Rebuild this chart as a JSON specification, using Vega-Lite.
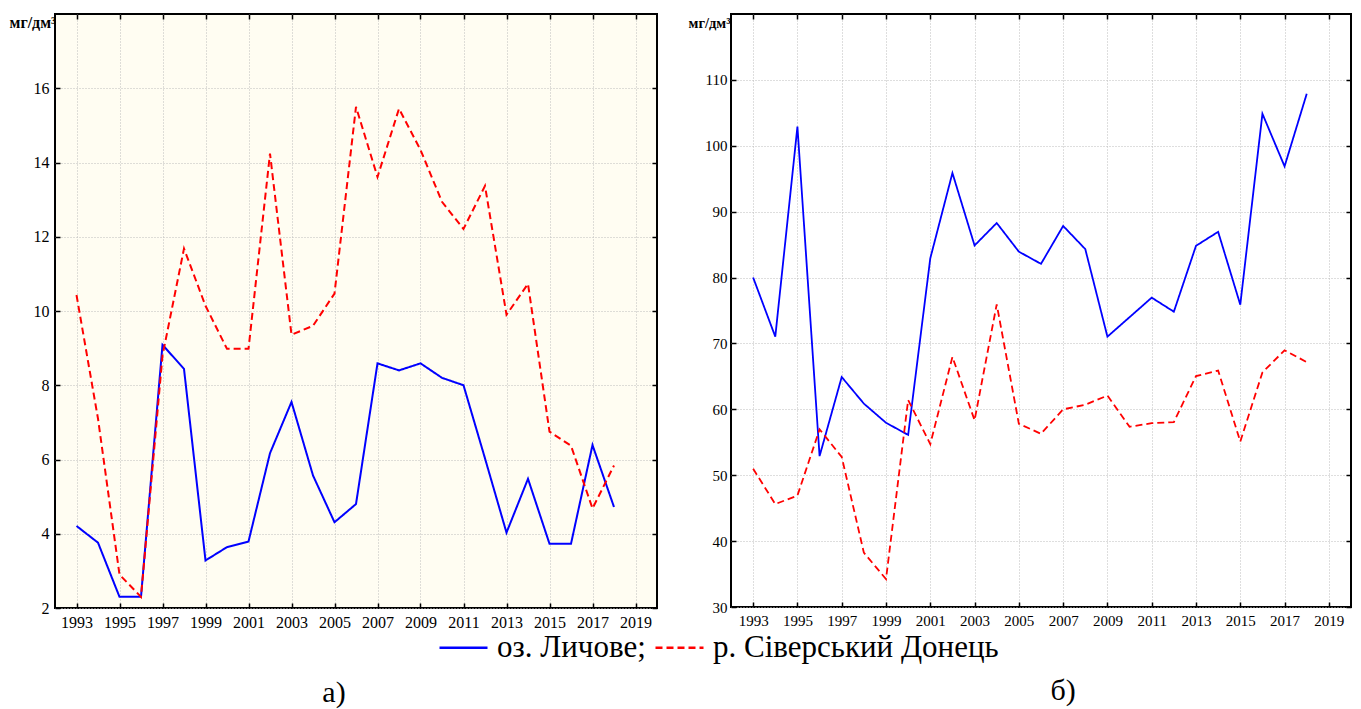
{
  "$schema": "https://vega.github.io/schema/vega-lite/v6.json",
  "background": "#ffffff",
  "padding": {"left": 8, "top": 12, "right": 0, "bottom": 0},
  "spacing": 74,
  "bounds": "flush",
  "config": {
    "font": "Liberation Serif",
    "view": {"stroke": "#000000", "strokeWidth": 2},
    "axis": {"labelFont": "Liberation Serif", "labelColor": "#000000", "titleFont": "Liberation Serif", "titleColor": "#000000", "gridColor": "#bdbdbd", "gridDash": [1, 2], "gridWidth": 1, "domain": false, "tickColor": "#000000", "tickWidth": 1.5, "tickSize": -5, "labelFlush": false, "labelOverlap": false},
    "legend": {"labelFont": "Liberation Serif", "labelFontSize": 31, "labelColor": "#000000"}
  },
  "datasets": {
    "a": [
      {"year": 1993, "series": "оз. Личове;", "value": 4.21},
      {"year": 1994, "series": "оз. Личове;", "value": 3.76},
      {"year": 1995, "series": "оз. Личове;", "value": 2.3},
      {"year": 1996, "series": "оз. Личове;", "value": 2.3},
      {"year": 1997, "series": "оз. Личове;", "value": 9.09},
      {"year": 1998, "series": "оз. Личове;", "value": 8.44},
      {"year": 1999, "series": "оз. Личове;", "value": 3.28},
      {"year": 2000, "series": "оз. Личове;", "value": 3.64},
      {"year": 2001, "series": "оз. Личове;", "value": 3.79},
      {"year": 2002, "series": "оз. Личове;", "value": 6.17},
      {"year": 2003, "series": "оз. Личове;", "value": 7.55},
      {"year": 2004, "series": "оз. Личове;", "value": 5.57},
      {"year": 2005, "series": "оз. Личове;", "value": 4.31},
      {"year": 2006, "series": "оз. Личове;", "value": 4.8},
      {"year": 2007, "series": "оз. Личове;", "value": 8.59},
      {"year": 2008, "series": "оз. Личове;", "value": 8.4},
      {"year": 2009, "series": "оз. Личове;", "value": 8.59},
      {"year": 2010, "series": "оз. Личове;", "value": 8.2},
      {"year": 2011, "series": "оз. Личове;", "value": 8.0},
      {"year": 2012, "series": "оз. Личове;", "value": 6.03},
      {"year": 2013, "series": "оз. Личове;", "value": 4.03},
      {"year": 2014, "series": "оз. Личове;", "value": 5.48},
      {"year": 2015, "series": "оз. Личове;", "value": 3.73},
      {"year": 2016, "series": "оз. Личове;", "value": 3.73},
      {"year": 2017, "series": "оз. Личове;", "value": 6.39},
      {"year": 2018, "series": "оз. Личове;", "value": 4.72},
      {"year": 1993, "series": "р. Сіверський Донець", "value": 10.43},
      {"year": 1994, "series": "р. Сіверський Донець", "value": 7.1},
      {"year": 1995, "series": "р. Сіверський Донець", "value": 2.9},
      {"year": 1996, "series": "р. Сіверський Донець", "value": 2.3},
      {"year": 1997, "series": "р. Сіверський Донець", "value": 8.8},
      {"year": 1998, "series": "р. Сіверський Донець", "value": 11.68},
      {"year": 1999, "series": "р. Сіверський Донець", "value": 10.14},
      {"year": 2000, "series": "р. Сіверський Донець", "value": 8.98},
      {"year": 2001, "series": "р. Сіверський Донець", "value": 8.98},
      {"year": 2002, "series": "р. Сіверський Донець", "value": 14.24},
      {"year": 2003, "series": "р. Сіверський Донець", "value": 9.36},
      {"year": 2004, "series": "р. Сіверський Донець", "value": 9.6},
      {"year": 2005, "series": "р. Сіверський Донець", "value": 10.47},
      {"year": 2006, "series": "р. Сіверський Донець", "value": 15.5},
      {"year": 2007, "series": "р. Сіверський Донець", "value": 13.61},
      {"year": 2008, "series": "р. Сіверський Донець", "value": 15.45},
      {"year": 2009, "series": "р. Сіверський Донець", "value": 14.34},
      {"year": 2010, "series": "р. Сіверський Донець", "value": 12.94},
      {"year": 2011, "series": "р. Сіверський Донець", "value": 12.21},
      {"year": 2012, "series": "р. Сіверський Донець", "value": 13.37},
      {"year": 2013, "series": "р. Сіверський Донець", "value": 9.9},
      {"year": 2014, "series": "р. Сіверський Донець", "value": 10.73},
      {"year": 2015, "series": "р. Сіверський Донець", "value": 6.75},
      {"year": 2016, "series": "р. Сіверський Донець", "value": 6.37},
      {"year": 2017, "series": "р. Сіверський Донець", "value": 4.68},
      {"year": 2018, "series": "р. Сіверський Донець", "value": 5.84}
    ],
    "b": [
      {"year": 1993, "series": "оз. Личове;", "value": 80},
      {"year": 1994, "series": "оз. Личове;", "value": 71.03},
      {"year": 1995, "series": "оз. Личове;", "value": 102.9},
      {"year": 1996, "series": "оз. Личове;", "value": 52.9},
      {"year": 1997, "series": "оз. Личове;", "value": 64.9},
      {"year": 1998, "series": "оз. Личове;", "value": 60.87},
      {"year": 1999, "series": "оз. Личове;", "value": 57.96},
      {"year": 2000, "series": "оз. Личове;", "value": 56.12},
      {"year": 2001, "series": "оз. Личове;", "value": 82.92},
      {"year": 2002, "series": "оз. Личове;", "value": 95.87},
      {"year": 2003, "series": "оз. Личове;", "value": 84.87},
      {"year": 2004, "series": "оз. Личове;", "value": 88.28},
      {"year": 2005, "series": "оз. Личове;", "value": 83.93},
      {"year": 2006, "series": "оз. Личове;", "value": 82.08},
      {"year": 2007, "series": "оз. Личове;", "value": 87.83},
      {"year": 2008, "series": "оз. Личове;", "value": 84.32},
      {"year": 2009, "series": "оз. Личове;", "value": 71.03},
      {"year": 2010, "series": "оз. Личове;", "value": 73.99},
      {"year": 2011, "series": "оз. Личове;", "value": 76.95},
      {"year": 2012, "series": "оз. Личове;", "value": 74.82},
      {"year": 2013, "series": "оз. Личове;", "value": 84.82},
      {"year": 2014, "series": "оз. Личове;", "value": 86.94},
      {"year": 2015, "series": "оз. Личове;", "value": 75.88},
      {"year": 2016, "series": "оз. Личове;", "value": 104.86},
      {"year": 2017, "series": "оз. Личове;", "value": 96.88},
      {"year": 2018, "series": "оз. Личове;", "value": 107.88},
      {"year": 1993, "series": "р. Сіверський Донець", "value": 50.98},
      {"year": 1994, "series": "р. Сіверський Донець", "value": 45.62},
      {"year": 1995, "series": "р. Сіверський Донець", "value": 46.91},
      {"year": 1996, "series": "р. Сіверський Донець", "value": 56.96},
      {"year": 1997, "series": "р. Сіверський Донець", "value": 52.77},
      {"year": 1998, "series": "р. Сіверський Донець", "value": 38.25},
      {"year": 1999, "series": "р. Сіверський Донець", "value": 34.23},
      {"year": 2000, "series": "р. Сіверський Донець", "value": 61.42},
      {"year": 2001, "series": "р. Сіверський Донець", "value": 54.72},
      {"year": 2002, "series": "р. Сіверський Донець", "value": 67.96},
      {"year": 2003, "series": "р. Сіверський Донець", "value": 58.35},
      {"year": 2004, "series": "р. Сіверський Донець", "value": 75.94},
      {"year": 2005, "series": "р. Сіверський Донець", "value": 57.8},
      {"year": 2006, "series": "р. Сіверський Донець", "value": 56.29},
      {"year": 2007, "series": "р. Сіверський Донець", "value": 60},
      {"year": 2008, "series": "р. Сіверський Донець", "value": 60.7},
      {"year": 2009, "series": "р. Сіверський Донець", "value": 62.09},
      {"year": 2010, "series": "р. Сіверський Донець", "value": 57.35},
      {"year": 2011, "series": "р. Сіверський Донець", "value": 57.9},
      {"year": 2012, "series": "р. Сіверський Донець", "value": 58.07},
      {"year": 2013, "series": "р. Сіверський Донець", "value": 65.05},
      {"year": 2014, "series": "р. Сіверський Донець", "value": 65.89},
      {"year": 2015, "series": "р. Сіверський Донець", "value": 55.11},
      {"year": 2016, "series": "р. Сіверський Донець", "value": 65.6},
      {"year": 2017, "series": "р. Сіверський Донець", "value": 68.96},
      {"year": 2018, "series": "р. Сіверський Донець", "value": 67.17}
    ]
  },
  "resolve": {"scale": {"color": "shared", "strokeDash": "shared"}},
  "hconcat": [
    {
      "width": 602,
      "height": 594,
      "data": {"name": "a"},
      "view": {"fill": "#fffdf2", "stroke": "#000000", "strokeWidth": 2},
      "title": {"text": "а)", "orient": "bottom", "anchor": "middle", "dx": -22, "offset": 48, "font": "Liberation Serif", "fontSize": 30, "fontWeight": "normal", "color": "#000000"},
      "resolve": {"axis": {"x": "independent", "y": "independent"}},
      "layer": [
        {
          "mark": {"type": "line", "strokeWidth": 2},
          "encoding": {
            "x": {"field": "year", "type": "quantitative", "scale": {"domain": [1992, 2020], "nice": false, "zero": false},
              "axis": {"values": [1993, 1995, 1997, 1999, 2001, 2003, 2005, 2007, 2009, 2011, 2013, 2015, 2017, 2019], "format": "d", "title": null, "labelFont": "Liberation Serif", "labelFontSize": 16, "labelPadding": 11, "grid": true}},
            "y": {"field": "value", "type": "quantitative", "scale": {"domain": [2, 18], "nice": false, "zero": false},
              "axis": {"values": [2, 4, 6, 8, 10, 12, 14, 16], "title": "мг/дм³", "titleAngle": 0, "titleAlign": "left", "titleBaseline": "alphabetic", "titleX": -46, "titleY": 13, "titleFontSize": 16, "titleFontWeight": "bold", "labelFont": "Liberation Serif", "labelFontSize": 16, "labelPadding": 11, "grid": true}},
            "color": {"field": "series", "type": "nominal", "scale": {"domain": ["оз. Личове;", "р. Сіверський Донець"], "range": ["#0000ff", "#ff0000"]},
              "legend": {"orient": "none", "legendX": 383, "legendY": 608, "direction": "horizontal", "title": null, "symbolType": "stroke", "symbolSize": 2304, "symbolStrokeWidth": 2.5, "labelFont": "Liberation Serif", "labelFontSize": 31, "labelColor": "#000000", "labelLimit": 0, "columnPadding": 4, "labelOffset": 8, "padding": 0}},
            "strokeDash": {"field": "series", "type": "nominal", "scale": {"domain": ["оз. Личове;", "р. Сіверський Донець"], "range": [[1, 0], [7, 4]]},
              "legend": {"orient": "none", "legendX": 383, "legendY": 608, "direction": "horizontal", "title": null, "symbolType": "stroke", "symbolSize": 2304, "symbolStrokeWidth": 2.5, "labelFont": "Liberation Serif", "labelFontSize": 31, "labelColor": "#000000", "labelLimit": 0, "columnPadding": 4, "labelOffset": 8, "padding": 0}}
          }
        },
        {
          "mark": {"type": "line", "opacity": 0},
          "encoding": {
            "x": {"field": "year", "type": "quantitative", "axis": {"orient": "top", "values": [1993, 1995, 1997, 1999, 2001, 2003, 2005, 2007, 2009, 2011, 2013, 2015, 2017, 2019], "labels": false, "title": null, "grid": false}},
            "y": {"field": "value", "type": "quantitative", "axis": {"orient": "right", "values": [2, 4, 6, 8, 10, 12, 14, 16], "labels": false, "title": null, "grid": false}},
            "detail": {"field": "series"}
          }
        }
      ]
    },
    {
      "width": 620,
      "height": 593,
      "data": {"name": "b"},
      "view": {"fill": "#ffffff", "stroke": "#000000", "strokeWidth": 2},
      "title": {"text": "б)", "orient": "bottom", "anchor": "middle", "dx": 22, "offset": 48, "font": "Liberation Serif", "fontSize": 30, "fontWeight": "normal", "color": "#000000"},
      "resolve": {"axis": {"x": "independent", "y": "independent"}},
      "layer": [
        {
          "mark": {"type": "line", "strokeWidth": 1.8},
          "encoding": {
            "x": {"field": "year", "type": "quantitative", "scale": {"domain": [1992, 2020], "nice": false, "zero": false},
              "axis": {"values": [1993, 1995, 1997, 1999, 2001, 2003, 2005, 2007, 2009, 2011, 2013, 2015, 2017, 2019], "format": "d", "title": null, "labelFont": "Liberation Serif", "labelFontSize": 15, "labelPadding": 11, "grid": true}},
            "y": {"field": "value", "type": "quantitative", "scale": {"domain": [30, 120], "nice": false, "zero": false},
              "axis": {"values": [30, 40, 50, 60, 70, 80, 90, 100, 110], "title": "мг/дм³", "titleAngle": 0, "titleAlign": "left", "titleBaseline": "alphabetic", "titleX": -43, "titleY": 13, "titleFontSize": 14.5, "titleFontWeight": "bold", "labelFont": "Liberation Serif", "labelFontSize": 15, "labelPadding": 9, "grid": true}},
            "color": {"field": "series", "type": "nominal", "scale": {"domain": ["оз. Личове;", "р. Сіверський Донець"], "range": ["#0000ff", "#ff0000"]},
              "legend": {"orient": "none", "legendX": 383, "legendY": 608, "direction": "horizontal", "title": null, "symbolType": "stroke", "symbolSize": 2304, "symbolStrokeWidth": 2.5, "labelFont": "Liberation Serif", "labelFontSize": 31, "labelColor": "#000000", "labelLimit": 0, "columnPadding": 4, "labelOffset": 8, "padding": 0}},
            "strokeDash": {"field": "series", "type": "nominal", "scale": {"domain": ["оз. Личове;", "р. Сіверський Донець"], "range": [[1, 0], [7, 4]]},
              "legend": {"orient": "none", "legendX": 383, "legendY": 608, "direction": "horizontal", "title": null, "symbolType": "stroke", "symbolSize": 2304, "symbolStrokeWidth": 2.5, "labelFont": "Liberation Serif", "labelFontSize": 31, "labelColor": "#000000", "labelLimit": 0, "columnPadding": 4, "labelOffset": 8, "padding": 0}}
          }
        },
        {
          "mark": {"type": "line", "opacity": 0},
          "encoding": {
            "x": {"field": "year", "type": "quantitative", "axis": {"orient": "top", "values": [1993, 1995, 1997, 1999, 2001, 2003, 2005, 2007, 2009, 2011, 2013, 2015, 2017, 2019], "labels": false, "title": null, "grid": false}},
            "y": {"field": "value", "type": "quantitative", "axis": {"orient": "right", "values": [30, 40, 50, 60, 70, 80, 90, 100, 110], "labels": false, "title": null, "grid": false}},
            "detail": {"field": "series"}
          }
        }
      ]
    }
  ]
}
